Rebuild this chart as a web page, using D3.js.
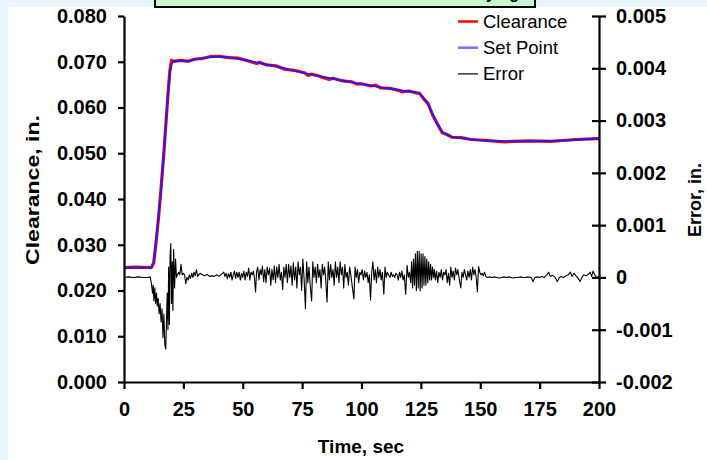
<!DOCTYPE html>
<html>
<head>
<meta charset="utf-8">
<script src="https://cdn.jsdelivr.net/npm/d3@7"></script>
<style>
  html, body { margin: 0; padding: 0; background: #e8f5fc; }
  svg { display: block; }
  text { font-family: "Liberation Sans", Arial, sans-serif; }
</style>
</head>
<body>
<svg id="chart" width="707" height="460"></svg>
<script>
// ---------------- data ----------------
const chartTitle = "Clearance Control Test with Set Point Varying";
const xTicks = [0, 25, 50, 75, 100, 125, 150, 175, 200];
const leftTicks = [0, 0.01, 0.02, 0.03, 0.04, 0.05, 0.06, 0.07, 0.08];
const rightTicks = [-0.002, -0.001, 0, 0.001, 0.002, 0.003, 0.004, 0.005];
const seriesNames = ["Clearance", "Set Point", "Error"];

// Set point (time s, clearance in.)
const setPointTime = [0, 11.5, 12.5, 13.5, 14.5, 15.5, 16.5, 17.5, 18.5, 19.3, 20, 21, 24, 27, 30, 33, 36, 40, 44, 48, 52, 56, 60, 64, 68, 72, 76, 80, 84, 88, 92, 96, 100, 104, 108, 112, 116, 120, 123, 124.5, 126, 128, 130, 132, 134, 136, 138, 142, 146, 150, 160, 170, 180, 190, 200];
const setPointValue = [0.0250, 0.0250, 0.0262, 0.0310, 0.0360, 0.0418, 0.0480, 0.0555, 0.0625, 0.0675, 0.0695, 0.0702, 0.0702, 0.0702, 0.0705, 0.0708, 0.0710, 0.0711, 0.0710, 0.0707, 0.0703, 0.0698, 0.0694, 0.0690, 0.0685, 0.0680, 0.0675, 0.0671, 0.0667, 0.0663, 0.0659, 0.0655, 0.0651, 0.0648, 0.0644, 0.0641, 0.0638, 0.0635, 0.0633, 0.0630, 0.0622, 0.0607, 0.0585, 0.0562, 0.0547, 0.0540, 0.0536, 0.0533, 0.0531, 0.0528, 0.0526, 0.0526, 0.0527, 0.0529, 0.0533];

// Measured clearance (time s, clearance in.)
const clearanceTime = [0, 5, 11.5, 12.5, 13.5, 14.5, 15.5, 16.5, 17.5, 18.5, 19.3, 20, 21, 24, 27, 30, 33, 36, 40, 44, 48, 52, 56, 57, 60, 64, 68, 72, 76, 77.5, 79, 82, 84, 86.5, 88, 92, 96, 98, 100, 104, 106, 108, 112, 116, 117, 120, 123, 124.5, 126, 128, 130, 132, 134, 136, 138, 142, 146, 150, 160, 170, 180, 190, 200];
const clearanceValue = [0.0250, 0.0251, 0.0250, 0.0260, 0.0305, 0.0357, 0.0416, 0.0482, 0.0553, 0.0628, 0.0680, 0.0703, 0.0701, 0.0703, 0.0701, 0.0706, 0.0707, 0.0711, 0.0712, 0.0709, 0.0708, 0.0702, 0.0696, 0.0699, 0.0693, 0.0691, 0.0683, 0.0681, 0.0676, 0.0670, 0.0673, 0.0669, 0.0665, 0.0661, 0.0664, 0.0658, 0.0656, 0.0651, 0.0652, 0.0647, 0.0649, 0.0643, 0.0642, 0.0637, 0.0634, 0.0636, 0.0632, 0.0631, 0.0620, 0.0609, 0.0583, 0.0564, 0.0545, 0.0541, 0.0535, 0.0534, 0.0530, 0.0529, 0.0525, 0.0527, 0.0526, 0.0530, 0.0532];

// Error (time s, error in thousandths of an inch)
const errorTime = [0, 2, 4, 6, 8, 10, 11, 11.5, 12, 12.3, 12.6, 13, 13.3, 13.7, 14, 14.4, 14.8, 15.2, 15.6, 16, 16.4, 16.8, 17.2, 17.6, 17.9, 18.2, 18.5, 18.8, 19.1, 19.4, 19.7, 20.0, 20.3, 20.6, 20.9, 21.3, 21.7, 22.1, 22.5, 23, 23.5, 24, 24.5, 25, 25.5, 26, 26.5, 27, 27.5, 28, 28.5, 29, 29.5, 30, 30.5, 31, 31.5, 32, 33, 34, 35, 36, 37, 38, 39, 40, 41, 42, 42.5, 43, 43.5, 44, 44.5, 45, 45.5, 46, 46.5, 47, 47.5, 48, 48.5, 49, 49.5, 50, 50.5, 51, 51.5, 52, 52.5, 53, 53.5, 54, 54.5, 55, 55.4, 55.8, 56.3, 56.8, 57.3, 57.8, 58.3, 58.8, 59.3, 59.8, 60.3, 60.8, 61.3, 61.8, 62.3, 62.8, 63.3, 63.8, 64.3, 64.8, 65.3, 65.8, 66.3, 66.8, 67.3, 67.8, 68.3, 68.8, 69.3, 69.8, 70.3, 70.8, 71.3, 71.8, 72.3, 72.8, 73.3, 73.8, 74.3, 74.8, 75.3, 75.8, 76.4, 76.9, 77.4, 77.9, 78.4, 79.0, 79.5, 80, 80.5, 81, 81.5, 82, 82.5, 83, 83.5, 84, 84.5, 85, 85.5, 86, 86.5, 87, 87.5, 88, 88.5, 89, 89.5, 90, 90.5, 91, 91.5, 92, 92.5, 93, 93.5, 94, 94.5, 95, 95.5, 96.2, 96.8, 97.3, 97.8, 98.3, 98.8, 99.3, 99.8, 100.3, 100.8, 101.3, 101.8, 102.3, 102.8, 103.3, 103.8, 104.3, 104.8, 105.3, 105.8, 106.3, 106.8, 107.3, 107.8, 108.3, 108.8, 109.4, 109.9, 110.4, 110.9, 111.4, 112, 112.5, 113, 113.5, 114, 114.5, 115, 115.5, 116, 116.5, 117, 117.5, 118, 118.6, 119.2, 119.7, 120.2, 120.7, 121.1, 121.5, 121.9, 122.3, 122.7, 123.1, 123.5, 123.9, 124.3, 124.7, 125.1, 125.5, 125.9, 126.3, 126.7, 127.1, 127.5, 127.9, 128.3, 128.7, 129.1, 129.5, 129.9, 130.3, 130.7, 131.1, 131.6, 132.1, 132.6, 133.1, 133.6, 134.1, 134.6, 135.1, 135.6, 136.1, 136.6, 137.1, 137.6, 138.1, 138.6, 139.1, 139.6, 140.1, 140.6, 141.2, 141.8, 142.3, 142.8, 143.3, 143.8, 144.3, 144.8, 145.3, 145.8, 146.3, 146.8, 147.3, 147.8, 148.3, 148.8, 149.3, 149.8, 150.3, 150.8, 151.3, 151.8, 152.3, 153, 154, 155, 156, 157, 158, 159, 160, 161, 162, 163, 164, 165, 166, 167, 168, 169, 170, 171, 171.5, 172.2, 173, 174, 175, 176, 177, 178, 178.8, 179.5, 180.5, 181.5, 182.5, 183.3, 184, 185, 186, 187, 188, 188.6, 189.5, 190.5, 191.3, 192, 192.8, 193.5, 194.5, 195.5, 196.3, 196.9, 197.5, 198.2, 199, 200];
const errorValue = [0, 0.01, 0, 0.01, 0, 0, 0.01, -0.1, -0.3, -0.15, -0.45, -0.2, -0.5, -0.3, -0.55, -0.4, -0.7, -0.5, -0.85, -0.6, -1.15, -0.7, -1.3, -1.37, -0.8, -0.3, -1.0, 0.2, -0.9, 0.4, 0.65, -0.5, 0.3, -0.63, 0.54, -0.2, 0.35, 0.0, 0.05, 0.1, 0.05, 0.25, 0.05, 0.08, 0.05, -0.12, 0.0, -0.05, 0.05, -0.02, 0.08, 0.0, 0.1, 0.03, 0.15, 0.02, 0.05, 0.08, 0.05, 0.03, 0.06, 0.02, 0.03, 0.02, 0.05, 0.02, 0.06, 0.1, 0.02, 0.08, -0.03, 0.07, 0.0, 0.1, -0.05, 0.05, 0.12, -0.02, 0.1, 0.0, 0.1, -0.05, 0.08, 0.0, 0.12, -0.05, 0.1, 0.02, 0.18, -0.05, 0.1, 0.05, 0.12, -0.05, -0.28, 0.1, 0.2, -0.05, 0.15, 0.05, 0.22, -0.08, 0.15, -0.1, 0.2, 0.05, 0.18, -0.15, 0.15, -0.05, 0.22, -0.1, 0.2, 0.0, 0.25, -0.05, 0.1, -0.23, 0.2, 0.0, 0.25, -0.1, 0.25, 0.0, 0.22, -0.15, 0.28, -0.05, 0.2, -0.2, 0.3, 0.05, 0.2, -0.25, 0.35, 0.0, -0.6, 0.3, -0.1, 0.2, -0.15, -0.45, 0.3, 0.0, 0.2, -0.1, 0.25, 0.0, 0.15, -0.2, 0.25, 0.05, 0.2, -0.1, -0.47, 0.3, -0.05, 0.25, 0.0, 0.15, -0.15, 0.3, 0.0, 0.2, -0.1, 0.3, 0.05, 0.2, -0.2, 0.25, 0.0, 0.1, -0.15, 0.2, 0.05, -0.2, -0.41, 0.2, 0.0, 0.15, -0.1, 0.1, 0.05, 0.15, -0.05, 0.12, 0.0, 0.1, -0.1, 0.05, -0.43, 0.1, 0.3, -0.05, 0.15, -0.1, 0.2, 0.0, 0.15, -0.05, 0.1, -0.32, 0.2, 0.0, 0.1, 0.05, 0.0, 0.1, 0.02, 0.05, 0.0, 0.08, 0.05, -0.05, 0.1, 0.0, 0.12, -0.05, 0.05, -0.32, 0.23, 0.0, 0.1, -0.1, 0.3, -0.2, 0.35, -0.15, 0.45, -0.25, 0.5, -0.2, 0.5, -0.26, 0.45, -0.2, 0.45, -0.15, 0.4, -0.15, 0.35, -0.1, 0.3, -0.05, 0.25, -0.05, 0.2, 0.0, 0.15, -0.05, 0.12, -0.1, 0.1, 0.0, 0.15, -0.05, 0.1, 0.05, 0.15, -0.1, 0.08, -0.15, 0.2, 0.0, 0.12, -0.05, 0.18, 0.05, 0.15, -0.05, -0.2, 0.1, 0.0, 0.15, 0.05, -0.05, 0.12, 0.0, 0.15, -0.05, 0.2, 0.05, 0.15, 0.0, -0.28, 0.21, 0.1, 0.05, 0.08, 0.03, 0.1, 0.02, 0.0, 0.01, 0.0, 0.01, 0.0, -0.01, 0.0, 0.01, 0.0, 0.01, 0.0, -0.01, 0.0, 0.0, 0.01, 0.0, 0.0, 0.01, 0.0, 0.0, -0.08, 0.0, 0.01, 0.0, 0.02, 0.0, 0.05, 0.1, 0.02, 0.04, 0.0, -0.08, 0.0, 0.02, 0.0, 0.03, 0.05, 0.1, 0.02, 0.08, 0.02, -0.02, -0.08, 0.0, 0.05, 0.03, 0.06, 0.1, 0.02, 0.12, 0.05, 0.0, 0.02];
const errorUnit = 0.001;

// ---------------- drawing ----------------
const svg = d3.select("#chart");

svg.append("rect").attr("x", 8).attr("y", 7).attr("width", 699).attr("height", 453).attr("fill", "#ffffff");

// title box (mostly cut off at the top)
svg.append("rect").attr("x", 155).attr("y", -20).attr("width", 380).attr("height", 27)
  .attr("fill", "#c8f7d2").attr("stroke", "#000").attr("stroke-width", 2);
svg.append("text").attr("x", 519).attr("y", -1).attr("text-anchor", "end")
  .attr("font-size", 16).attr("font-weight", "bold").text(chartTitle);

const x = d3.scaleLinear().domain([0, 200]).range([124, 599]);
const yL = d3.scaleLinear().domain([0, 0.08]).range([382, 16]);
const yR = d3.scaleLinear().domain([-0.002, 0.005]).range([382, 16]);

const fmt3 = d => d3.format(".3f")(d).replace("\u2212", "-");

// lines
const lineL = d3.line().x(d => x(d[0])).y(d => yL(d[1]));
const lineR = d3.line().x(d => x(d[0])).y(d => yR(d[1] * errorUnit));

const errData = errorTime.map((t, i) => [t, errorValue[i]]);
const clrData = clearanceTime.map((t, i) => [t, clearanceValue[i]]);
const spData = setPointTime.map((t, i) => [t, setPointValue[i]]);

svg.append("path").datum(errData).attr("d", lineR)
  .attr("fill", "none").attr("stroke", "#000").attr("stroke-width", 1.1).attr("stroke-linejoin", "round");
svg.append("path").datum(clrData).attr("d", lineL)
  .attr("fill", "none").attr("stroke", "#ff0000").attr("stroke-width", 3.2).attr("stroke-linejoin", "round");
svg.append("path").datum(spData).attr("d", lineL)
  .attr("fill", "none").attr("stroke", "#1a1aff").attr("stroke-width", 1.8).attr("stroke-linejoin", "round");

// axes
const axisFont = g => g.selectAll("text")
  .attr("font-family", "'Liberation Sans', Arial, sans-serif")
  .attr("font-size", 20).attr("font-weight", "bold").attr("fill", "#000");

const gx = svg.append("g").attr("transform", "translate(0,382)")
  .call(d3.axisBottom(x).tickValues(xTicks).tickSize(7).tickPadding(13).tickSizeOuter(0).tickFormat(d3.format("d")));
gx.call(axisFont);

const gl = svg.append("g").attr("transform", "translate(124,0)")
  .call(d3.axisLeft(yL).tickValues(leftTicks).tickSize(6).tickPadding(11).tickSizeOuter(0).tickFormat(fmt3));
gl.call(axisFont);

const gr = svg.append("g").attr("transform", "translate(599,0)")
  .call(d3.axisRight(yR).tickValues(rightTicks).tickSize(7).tickPadding(10).tickSizeOuter(0)
    .tickFormat(d => Math.abs(d) < 1e-12 ? "0" : fmt3(d)));
gr.call(axisFont);
gr.selectAll(".tick line").attr("x1", -7);

[gx, gl, gr].forEach(g => {
  g.selectAll(".domain").attr("stroke", "#000").attr("stroke-width", 2.2);
  g.selectAll(".tick line").attr("stroke", "#000").attr("stroke-width", 2.2);
});

// axis titles
svg.append("text").attr("x", 361).attr("y", 453).attr("text-anchor", "middle")
  .attr("font-size", 19).attr("font-weight", "bold").text("Time, sec");
svg.append("text").attr("transform", "translate(39,190) rotate(-90)").attr("text-anchor", "middle")
  .attr("font-size", 19).attr("font-weight", "bold")
  .attr("textLength", 150).attr("lengthAdjust", "spacingAndGlyphs").text("Clearance, in.");
svg.append("text").attr("transform", "translate(701,200) rotate(-90)").attr("text-anchor", "middle")
  .attr("font-size", 18).attr("font-weight", "bold").text("Error, in.");

// legend
const legendColors = ["#ff0000", "#7070ff", "#000000"];
const legendWidths = [2.5, 2.5, 1.2];
const lg = svg.append("g");
seriesNames.forEach((name, i) => {
  const yy = 21.5 + i * 26.2;
  lg.append("line").attr("x1", 458).attr("x2", 478).attr("y1", yy).attr("y2", yy)
    .attr("stroke", legendColors[i]).attr("stroke-width", legendWidths[i]);
  lg.append("text").attr("x", 483).attr("y", yy + 6.5).attr("font-size", 18.5).text(name);
});
</script>
</body>
</html>
